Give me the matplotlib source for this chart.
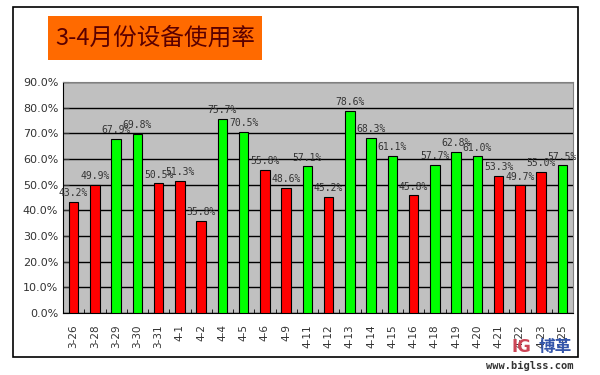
import matplotlib
matplotlib.use("Agg")
import matplotlib.pyplot as plt
from matplotlib.patches import Rectangle
from matplotlib.ticker import FixedLocator, FuncFormatter

categories = ["3-26", "3-28", "3-29", "3-30", "3-31", "4-1", "4-2", "4-4", "4-5",
              "4-6", "4-9", "4-11", "4-12", "4-13", "4-14", "4-15", "4-16", "4-18",
              "4-19", "4-20", "4-21", "4-22", "4-23", "4-25"]
values = [43.2, 49.9, 67.9, 69.8, 50.5, 51.3, 35.8, 75.7, 70.5, 55.8, 48.6, 57.1,
          45.2, 78.6, 68.3, 61.1, 45.8, 57.7, 62.8, 61.0, 53.3, 49.7, 55.0, 57.5]
threshold = 57.0
title = "3-4月份设备使用率"

W, H = 600, 375
fig = plt.figure(figsize=(6, 3.75), dpi=100)
fig.patch.set_facecolor("white")

def fx(x): return x / W
def fy(y): return 1 - y / H

# outer frame
fig.add_artist(Rectangle((fx(13), fy(357)), fx(578) - fx(13), fy(7) - fy(357),
                         transform=fig.transFigure, fill=False, edgecolor="black", lw=1.2))
# title box
fig.add_artist(Rectangle((fx(48), fy(60)), fx(262) - fx(48), fy(16) - fy(60),
                         transform=fig.transFigure, facecolor="#FF6A00", edgecolor="none"))
fig.text(fx(155), fy(38), title, ha="center", va="center", fontsize=17,
         color="#5A0000", family=["Noto Sans CJK SC", "DejaVu Sans"])

ax = fig.add_axes([fx(63), fy(313), fx(573) - fx(63), fy(82) - fy(313)])
ax.set_facecolor("#C0C0C0")
x = list(range(len(categories)))
colors = ["#00FF00" if v >= threshold else "#FF0000" for v in values]
ax.set_axisbelow(True)
ax.yaxis.grid(True, color="black", lw=1)
bars = ax.bar(x, [v / 100 for v in values], width=0.45, color=colors,
              edgecolor="black", linewidth=0.8, zorder=3)
for xi, v in zip(x, values):
    ax.text(xi, v / 100 + 0.015, f"{v:.1f}%", ha="center", va="bottom",
            fontsize=7, family="DejaVu Sans Mono", color="#333333", zorder=4)

ax.set_xlim(-0.5, len(categories) - 0.5)
ax.set_ylim(0, 0.9)
ax.set_yticks([i / 10 for i in range(10)])
ax.yaxis.set_major_formatter(FuncFormatter(lambda v, p: f"{v*100:.1f}%"))
ax.set_xticks(x)
ax.set_xticklabels(categories, rotation=90, fontsize=7.5, color="#333333")
ax.tick_params(axis="x", length=0, pad=8)
ax.xaxis.set_minor_locator(FixedLocator([i + 0.5 for i in range(len(categories) - 1)]))
ax.tick_params(axis="x", which="minor", direction="in", length=3, color="black")
ax.tick_params(axis="y", length=4, direction="in", labelsize=8, colors="#333333")
for s in ["top", "right"]:
    ax.spines[s].set_color("#808080")
ax.spines["left"].set_color("black")
ax.spines["bottom"].set_color("black")

# watermark
fig.text(fx(555), fy(356), "博革", ha="center", va="bottom", fontsize=12, fontweight="bold",
         color="#3355AA", family=["Noto Sans CJK SC", "DejaVu Sans"])
fig.text(fx(521), fy(356), "IG", ha="center", va="bottom", fontsize=12, fontweight="bold",
         color="#CC4455")
fig.text(fx(530), fy(366), "www.biglss.com", ha="center", va="center", fontsize=7.5,
         fontweight="bold", family="DejaVu Sans Mono", color="#333333")

fig.savefig("out.png", dpi=100)
